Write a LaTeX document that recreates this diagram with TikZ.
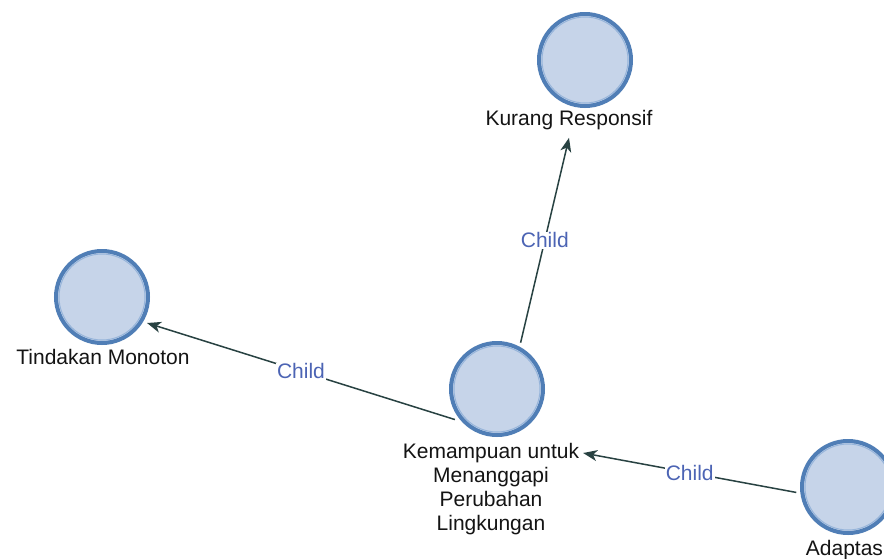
\documentclass[tikz,border=0pt]{standalone}
\usepackage{fontspec}
\setmainfont{Liberation Sans}
\usetikzlibrary{arrows.meta,calc}
\definecolor{nodefill}{RGB}{198,212,233}
\definecolor{nodeline}{RGB}{80,126,182}
\definecolor{nodering}{RGB}{150,180,218}
\definecolor{edgecol}{RGB}{40,66,66}
\definecolor{childcol}{RGB}{76,100,180}
\definecolor{textcol}{RGB}{20,20,20}
\begin{document}
\begin{tikzpicture}[x=1pt,y=-1pt,
  concept/.style={circle,draw=nodeline,fill=nodefill,line width=4pt,
    minimum size=92pt,inner sep=0pt,outer sep=6pt},
  innerring/.style={draw=nodering,line width=1pt},
  caption/.style={font=\fontsize{21}{24}\selectfont,text=textcol,
    inner sep=0pt,outer sep=0pt,align=center},
  link/.style={draw=edgecol,line width=1.5pt,
    -{Stealth[length=14pt,width=11pt,inset=4pt]}},
  childlbl/.style={font=\fontsize{21}{24}\selectfont,text=childcol,
    fill=white,inner sep=1pt}]
\useasboundingbox (0,0) rectangle (884,558);
\clip (0,0) rectangle (884,558);
\fill[white] (0,0) rectangle (884,558);

% concept circles
\node[concept] (kur) at (585,60) {};
\node[concept] (tin) at (102,297) {};
\node[concept] (kem) at (497,389) {};
\node[concept] (ada) at (848,487) {};

% lighter inner edge of each circle's border
\foreach \n in {kur,tin,kem,ada}
  \draw[innerring] (\n.center) circle (43pt);

% captions under the circles
\node[caption,anchor=base] (kurlbl) at (569,125) {Kurang Responsif};
\node[caption,anchor=base] (tinlbl) at (103,364) {Tindakan Monoton};
\node[caption,anchor=north] (kemlbl) at (491,443)
  {Kemampuan untuk\\Menanggapi\\Perubahan\\Lingkungan};
\node[caption,anchor=base east] (adalbl) at (883,555) {Adaptas};

% child relations
\draw[link] (kem.63) -- node[childlbl]{Child} ([yshift=-8.5pt]kurlbl.south);
\draw[link] (kem.216) -- node[childlbl]{Child} (tin.-30);
\draw[link] (ada.186) -- node[childlbl]{Child} ([xshift=4pt,yshift=-10pt]kemlbl.north east);
\end{tikzpicture}
\end{document}
